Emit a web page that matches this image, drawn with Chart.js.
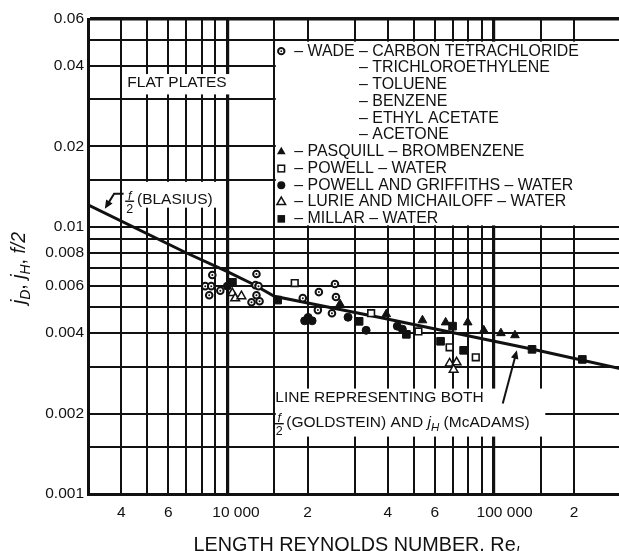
<!DOCTYPE html>
<html>
<head>
<meta charset="utf-8">
<script src="https://cdn.jsdelivr.net/npm/chart.js@4.4.1/dist/chart.umd.min.js"></script>
<style>
  html, body { margin: 0; padding: 0; background: #fff; overflow: hidden; }
  #wrap { width: 630px; height: 551px; }
</style>
</head>
<body>
<div id="wrap"><canvas id="chart" width="630" height="551"></canvas></div>
<script>
// axis ticks (gridlines) and the labels shown on them
const xTicks = [3000, 4000, 5000, 6000, 7000, 8000, 9000, 10000, 15000, 20000, 30000, 40000,
  50000, 60000, 70000, 80000, 90000, 100000, 150000, 200000, 300000];
const xLabelValues = [4000, 6000, 10000, 20000, 40000, 60000, 100000, 200000];
const xLabelText = ["4", "6", "    10 000", "2", "4", "6", "     100 000", "2"];

const yTicks = [0.001, 0.0015, 0.002, 0.003, 0.004, 0.005, 0.006, 0.007, 0.008, 0.009, 0.01,
  0.015, 0.02, 0.03, 0.04, 0.05, 0.06];
const yLabelValues = [0.001, 0.002, 0.004, 0.006, 0.008, 0.01, 0.02, 0.04, 0.06];
const yLabelText = ["0.001", "0.002", "0.004", "0.006", "0.008", "0.01", "0.02", "0.04", "0.06"];

// Blasius / Goldstein line
const lineRe = [3000, 7000, 10000, 12500, 15000, 37000, 140000, 300000];
const lineJ = [0.0121, 0.0080, 0.0068, 0.0061, 0.0055, 0.00459, 0.00348, 0.00294];

// measured points
const wadeRe = [8780, 8260, 8700, 8550, 9410, 12860, 12750, 13090, 12860, 12320, 13210, 19190, 22050, 21860, 25340, 25560, 24690];
const wadeJ = [0.00660, 0.00600, 0.00600, 0.00555, 0.00577, 0.00666, 0.00605, 0.00600, 0.00555, 0.00522, 0.00527, 0.00541, 0.00570, 0.00488, 0.00611, 0.00546, 0.00475];

const pasquillRe = [26470, 39470, 53970, 65930, 79800, 91680, 106300, 120000];
const pasquillJ = [0.00514, 0.00471, 0.00447, 0.00439, 0.00439, 0.00410, 0.00400, 0.00393];

const powellRe = [17900, 34640, 52120, 68230, 85540];
const powellJ = [0.00616, 0.00475, 0.00406, 0.00354, 0.00325];

const griffithsRe = [10000, 19500, 20100, 20800, 28370, 33170, 43420, 45360];
const griffithsJ = [0.00600, 0.00445, 0.00458, 0.00445, 0.00459, 0.00410, 0.00425, 0.00414];

const lurieRe = [10440, 10700, 11290, 68230, 70640, 72500];
const lurieJ = [0.00565, 0.00540, 0.00550, 0.00308, 0.00292, 0.00311];

const millarRe = [10450, 15440, 31220, 46960, 63100, 70000, 77020, 139100, 214800];
const millarJ = [0.00620, 0.00532, 0.00443, 0.00396, 0.00373, 0.00425, 0.00345, 0.00348, 0.00319];

const legendMarkers = ["ring", null, null, null, null, null, "triFill", "sqOpen", "dotFill", "triOpen", "sqFill"];
const legendText = [
  "\u2013 WADE \u2013 CARBON TETRACHLORIDE",
  "\u2013 TRICHLOROETHYLENE",
  "\u2013 TOLUENE",
  "\u2013 BENZENE",
  "\u2013 ETHYL ACETATE",
  "\u2013 ACETONE",
  "\u2013 PASQUILL \u2013 BROMBENZENE",
  "\u2013 POWELL \u2013 WATER",
  "\u2013 POWELL AND GRIFFITHS \u2013 WATER",
  "\u2013 LURIE AND MICHAILOFF \u2013 WATER",
  "\u2013 MILLAR \u2013 WATER"
];

const FONT = "'Liberation Sans', Arial, Helvetica, sans-serif";
const INK = "#111";
const TXT = 15.5;
const LEG = 15.9;

function font(size, italic) {
  return (italic ? "italic " : "") + size + "px " + FONT;
}

function pts(xs, ys) {
  return xs.map((x, i) => ({ x: x, y: ys[i] }));
}

function drawMarker(c, type, x, y) {
  c.save();
  c.fillStyle = INK;
  c.strokeStyle = INK;
  c.lineWidth = 1.5;
  if (type === "ring") {
    c.lineWidth = 2;
    c.beginPath();
    c.arc(x, y, 3.2, 0, Math.PI * 2);
    c.stroke();
    c.beginPath();
    c.arc(x, y, 0.9, 0, Math.PI * 2);
    c.fill();
  } else if (type === "triFill" || type === "triOpen") {
    const r = 5;
    c.beginPath();
    c.moveTo(x, y - r);
    c.lineTo(x + r * 0.866, y + r / 2);
    c.lineTo(x - r * 0.866, y + r / 2);
    c.closePath();
    if (type === "triFill") c.fill(); else { c.fillStyle = "#fff"; c.fill(); c.stroke(); }
  } else if (type === "sqFill" || type === "sqOpen") {
    if (type === "sqFill") c.fillRect(x - 3.8, y - 3.8, 7.6, 7.6);
    else { c.fillStyle = "#fff"; c.fillRect(x - 3.3, y - 3.3, 6.6, 6.6); c.strokeRect(x - 3.3, y - 3.3, 6.6, 6.6); }
  } else if (type === "dotFill") {
    c.beginPath();
    c.arc(x, y, 4, 0, Math.PI * 2);
    c.fill();
  }
  c.restore();
}

// text pieces: [text, size, italic, dy]
function partsWidth(c, parts) {
  let w = 0;
  parts.forEach(p => { c.font = font(p[1], p[2]); w += c.measureText(p[0]).width; });
  return w;
}
function drawParts(c, parts, x, y) {
  let cx = x;
  parts.forEach(p => {
    c.font = font(p[1], p[2]);
    c.fillText(p[0], cx, y + (p[3] || 0));
    cx += c.measureText(p[0]).width;
  });
  return cx;
}

// f over 2, bar at y
function drawFrac(c, x, y) {
  c.save();
  c.textAlign = "center";
  c.textBaseline = "alphabetic";
  c.font = font(12.5, true);
  c.fillText("f", x, y - 1.5);
  c.font = font(12.5, false);
  c.fillText("2", x, y + 11.5);
  c.fillRect(x - 4.5, y - 0.6, 9, 1.4);
  c.restore();
}

function arrow(c, pts) {
  c.save();
  c.strokeStyle = INK;
  c.fillStyle = INK;
  c.lineWidth = 2;
  const n = pts.length;
  const [x1, y1] = pts[n - 2];
  const [x2, y2] = pts[n - 1];
  const a = Math.atan2(y2 - y1, x2 - x1);
  const L = 8.5, W = 3.8;
  c.beginPath();
  c.moveTo(pts[0][0], pts[0][1]);
  for (let i = 1; i < n - 1; i++) c.lineTo(pts[i][0], pts[i][1]);
  c.lineTo(x2 - L * 0.8 * Math.cos(a), y2 - L * 0.8 * Math.sin(a));
  c.stroke();
  c.beginPath();
  c.moveTo(x2, y2);
  c.lineTo(x2 - L * Math.cos(a) + W * Math.sin(a), y2 - L * Math.sin(a) - W * Math.cos(a));
  c.lineTo(x2 - L * Math.cos(a) - W * Math.sin(a), y2 - L * Math.sin(a) + W * Math.cos(a));
  c.closePath();
  c.fill();
  c.restore();
}

const annotations = {
  id: "annotations",
  // white panels behind the labels hide the grid
  beforeDatasetsDraw(chart) {
    const c = chart.ctx;
    const xs = chart.scales.x, ys = chart.scales.y;
    const X = v => xs.getPixelForValue(v), Y = v => ys.getPixelForValue(v);
    const area = chart.chartArea;
    c.save();
    c.fillStyle = "#fff";
    // FLAT PLATES
    c.fillRect(X(4000) + 2, Y(0.04) + 8, X(10000) + 4 - (X(4000) + 2), (Y(0.03) - 5) - (Y(0.04) + 8));
    // BLASIUS label
    c.fillRect(X(4000) + 2, Y(0.015) + 2, X(10000) - 3 - (X(4000) + 2), Y(0.0118) - (Y(0.015) + 2));
    // legend panel
    c.fillRect(X(15000) + 1.5, Y(0.05) + 1.5, area.right + 4 - X(15000), Y(0.01) - Y(0.05) - 3);
    // lower label
    c.fillRect(X(15000) + 1.5, Y(0.002) - 25, X(150000) + 3 - X(15000), 48);
    c.restore();
  },
  afterDatasetsDraw(chart) {
    const c = chart.ctx;
    const xs = chart.scales.x, ys = chart.scales.y;
    const X = v => xs.getPixelForValue(v), Y = v => ys.getPixelForValue(v);
    const area = chart.chartArea;
    c.save();
    c.fillStyle = INK;
    c.textBaseline = "middle";
    c.textAlign = "left";

    // FLAT PLATES
    c.font = font(TXT);
    c.fillText("FLAT PLATES", X(4000) + 6, Y(0.035) + 1);

    // f/2 (BLASIUS)
    const by = Y(0.0127);
    drawFrac(c, X(4300), by + 2);
    c.font = font(TXT);
    c.textBaseline = "middle";
    c.fillText("(BLASIUS)", X(4580), by + 1);
    arrow(c, [[X(4080), Y(0.0133)], [X(3760), Y(0.0133)], [X(3470), Y(0.0117)]]);

    // legend
    const lx = X(15000);
    const top = Y(0.05) + 11;
    const step = (Y(0.01) - 8 - top) / (legendText.length - 1);
    c.font = font(LEG);
    const indent = c.measureText("\u2013 WADE ").width;
    legendText.forEach((t, i) => {
      const yy = top + i * step;
      c.font = font(LEG);
      if (legendMarkers[i]) {
        drawMarker(c, legendMarkers[i], lx + 7, yy);
        c.fillStyle = INK;
        c.fillText(t, lx + 20, yy);
      } else {
        c.fillText(t, lx + 20 + indent, yy);
      }
    });

    // lower label
    const ly1 = Y(0.002) - 16, ly2 = Y(0.002) + 9;
    c.font = font(TXT);
    c.fillText("LINE REPRESENTING BOTH", lx + 1, ly1);
    drawFrac(c, lx + 5, ly2 + 1);
    c.textBaseline = "middle";
    drawParts(c, [["(GOLDSTEIN) AND ", TXT, false, 0], ["j", TXT, true, 0], ["H", 11.5, true, 5], [" (McADAMS)", TXT, false, 0]], lx + 12, ly2);
    arrow(c, [[X(108000), Y(0.00218)], [X(122000), Y(0.00345)]]);

    // axis titles
    c.textBaseline = "middle";
    const xt = [["LENGTH REYNOLDS NUMBER, Re", 19.8, false, 0], ["L", 14, true, 6]];
    const xw = partsWidth(c, xt);
    drawParts(c, xt, (area.left + area.right) / 2 + 4 - xw / 2, 546);

    const yt = [["j", 19.5, true, 0], ["D", 14, true, 6], [", ", 19.5, false, 0], ["j", 19.5, true, 0],
      ["H", 14, true, 6], [", ", 19.5, false, 0], ["f/2", 19.5, true, 0]];
    const yw = partsWidth(c, yt);
    c.translate(20, 268);
    c.rotate(-Math.PI / 2);
    drawParts(c, yt, -yw / 2, 0);
    c.restore();
  }
};

const markerSets = [
  { data: pts(wadeRe, wadeJ), pointStyle: "circle", pointRadius: 1, backgroundColor: INK, borderColor: INK, borderWidth: 0 },
  { data: pts(wadeRe, wadeJ), pointStyle: "circle", pointRadius: 3.3, backgroundColor: "#fff", borderColor: INK, borderWidth: 2 },
  { data: pts(pasquillRe, pasquillJ), pointStyle: "triangle", pointRadius: 5, backgroundColor: INK, borderColor: INK, borderWidth: 1 },
  { data: pts(powellRe, powellJ), pointStyle: "rect", pointRadius: 4.7, backgroundColor: "#fff", borderColor: INK, borderWidth: 1.6 },
  { data: pts(griffithsRe, griffithsJ), pointStyle: "circle", pointRadius: 4, backgroundColor: INK, borderColor: INK, borderWidth: 1 },
  { data: pts(lurieRe, lurieJ), pointStyle: "triangle", pointRadius: 5, backgroundColor: "#fff", borderColor: INK, borderWidth: 1.5 },
  { data: pts(millarRe, millarJ), pointStyle: "rect", pointRadius: 5.4, backgroundColor: INK, borderColor: INK, borderWidth: 1 }
];

const gridWidth = 2;

const chart = new Chart(document.getElementById("chart"), {
  type: "scatter",
  data: {
    datasets: markerSets.concat([{
      type: "line",
      data: pts(lineRe, lineJ),
      showLine: true,
      borderColor: INK,
      borderWidth: 3,
      pointRadius: 0,
      tension: 0,
      fill: false
    }])
  },
  options: {
    responsive: false,
    animation: false,
    layout: { padding: { top: 19, right: 2, left: 0, bottom: 0 } },
    plugins: { legend: { display: false }, tooltip: { enabled: false } },
    scales: {
      x: {
        type: "logarithmic",
        min: 3000,
        max: 300000,
        afterBuildTicks: axis => { axis.ticks = xTicks.map(v => ({ value: v })); },
        afterFit: axis => { axis.height = 57; },
        border: { display: true, color: INK, width: 3 },
        grid: {
          color: INK,
          drawTicks: false,
          lineWidth: ctx => (ctx.tick && (ctx.tick.value === 10000 || ctx.tick.value === 100000)) ? 3.2 : gridWidth
        },
        ticks: {
          autoSkip: false,
          maxRotation: 0,
          padding: 9,
          color: INK,
          font: { family: FONT, size: TXT },
          callback: v => { const i = xLabelValues.indexOf(v); return i >= 0 ? xLabelText[i] : ""; }
        }
      },
      y: {
        type: "logarithmic",
        min: 0.001,
        max: 0.06,
        afterBuildTicks: axis => { axis.ticks = yTicks.map(v => ({ value: v })); },
        afterFit: axis => { axis.width = 88; },
        border: { display: true, color: INK, width: 3 },
        grid: {
          color: INK,
          drawTicks: false,
          lineWidth: ctx => (ctx.tick && ctx.tick.value === 0.06) ? 3.5 : gridWidth
        },
        ticks: {
          autoSkip: false,
          padding: 4,
          color: INK,
          font: { family: FONT, size: TXT },
          callback: v => { const i = yLabelValues.indexOf(v); return i >= 0 ? yLabelText[i] : ""; }
        }
      }
    }
  },
  plugins: [annotations]
});
</script>
</body>
</html>
